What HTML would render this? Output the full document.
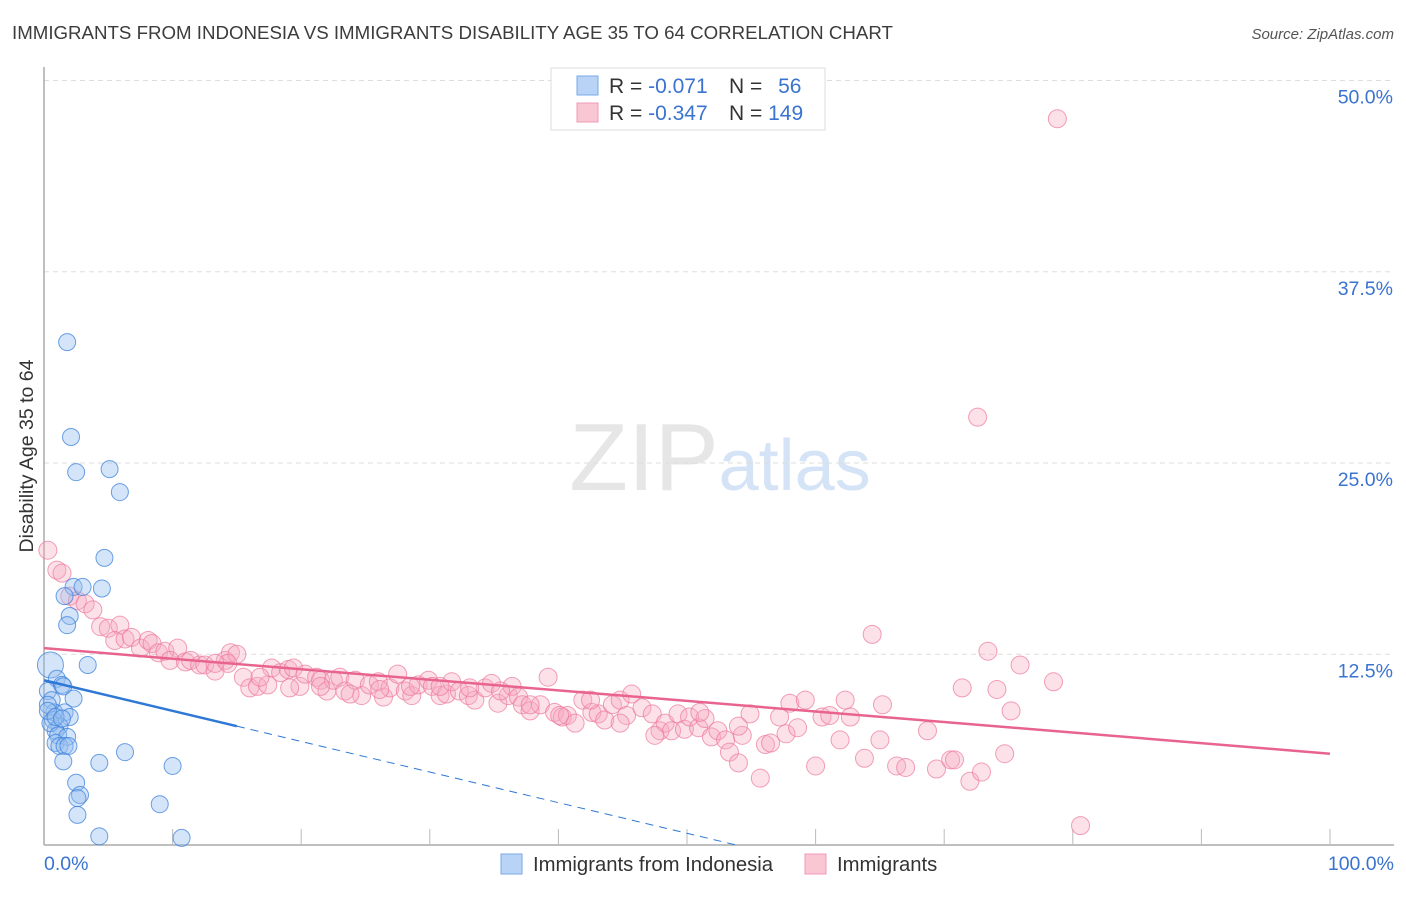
<!DOCTYPE html>
<html><head><meta charset="utf-8"><style>
body{margin:0;background:#fff;font-family:"Liberation Sans",sans-serif;}
svg text{font-family:"Liberation Sans",sans-serif;}
</style></head><body>
<svg id="chart" width="1406" height="892" xmlns="http://www.w3.org/2000/svg">
<text x="12" y="39" font-size="18.7" fill="#3c3c3c">IMMIGRANTS FROM INDONESIA VS IMMIGRANTS DISABILITY AGE 35 TO 64 CORRELATION CHART</text>
<text x="1394" y="39" font-size="15" fill="#555" text-anchor="end" font-style="italic">Source: ZipAtlas.com</text>
<text x="720" y="490" font-size="96" text-anchor="middle" fill="#e6e6e6" font-family="Liberation Serif">ZIP<tspan fill="#d4e3f5" font-family="Liberation Sans" font-size="72">atlas</tspan></text>
<text transform="translate(33,456) rotate(-90)" font-size="19.5" fill="#333" text-anchor="middle">Disability Age 35 to 64</text>
<g id="grid"></g><g id="axes"></g><g id="pts"></g><g id="lines"></g>
<g>
<rect x="551" y="68" width="274" height="62" fill="#fff" stroke="#ddd"/>
<rect x="577" y="76" width="21" height="19" fill="#b8d3f5" stroke="#7aaae8"/>
<rect x="577" y="103" width="21" height="19" fill="#f9c6d4" stroke="#f099b3"/>
<text x="609" y="93" font-size="21" fill="#333">R = <tspan fill="#3a73d0">-0.071</tspan></text>
<text x="729" y="93" font-size="21" fill="#333">N = <tspan fill="#3a73d0" dx="10">56</tspan></text>
<text x="609" y="120" font-size="21" fill="#333">R = <tspan fill="#3a73d0">-0.347</tspan></text>
<text x="729" y="120" font-size="21" fill="#333">N = <tspan fill="#3a73d0">149</tspan></text>
</g>
<g>
<rect x="501" y="854" width="21" height="20" fill="#b8d3f5" stroke="#7aaae8"/>
<text x="533" y="871" font-size="20.3" fill="#333">Immigrants from Indonesia</text>
<rect x="805" y="854" width="21" height="20" fill="#f9c6d4" stroke="#f099b3"/>
<text x="837" y="871" font-size="20.3" fill="#333">Immigrants</text>
</g>
</svg>
<script>
const yTicks=[12.5,25,37.5,50];
const yTickLabels=["12.5%","25.0%","37.5%","50.0%"];
const xTickLabels=["0.0%","100.0%"];
const blueX=[1.8,2.1,2.5,5.1,5.9,4.7,2.3,3.0,4.5,1.6,2.0,1.8,3.4,0.5,1.0,0.3,1.4,1.5,2.3,0.6,0.8,1.6,2.0,0.7,1.2,0.9,0.5,1.1,1.8,0.9,1.2,1.6,1.9,6.3,4.3,1.5,10.0,2.5,2.8,2.6,9.0,2.6,4.3,10.7,0.3,0.3,0.9,1.4];
const blueY=[32.9,26.7,24.4,24.6,23.1,18.8,16.9,16.9,16.8,16.3,15.0,14.4,11.8,11.8,10.9,10.1,10.5,10.4,9.6,9.5,8.7,8.7,8.4,8.2,7.8,7.5,8.0,7.2,7.1,6.7,6.5,6.5,6.5,6.1,5.4,5.5,5.2,4.1,3.3,3.1,2.7,2.0,0.6,0.5,9.2,8.8,8.4,8.3];
const pinkX=[0.3,1.0,1.4,2.0,2.6,3.2,3.8,4.4,5.0,5.9,5.5,6.3,6.8,7.5,8.1,8.4,8.9,9.4,10.4,9.8,11.0,11.4,12.1,12.5,13.3,14.1,14.5,15.0,15.5,16.0,16.6,17.4,17.7,18.4,19.0,19.4,19.9,20.3,21.2,21.5,22.0,22.5,23.0,23.4,24.2,24.7,25.3,26.0,26.4,26.9,27.5,28.1,28.6,29.1,29.9,30.2,30.8,31.3,31.7,32.3,33.0,33.5,34.3,34.8,35.3,36.1,36.4,36.9,37.2,37.8,38.6,39.2,39.7,40.3,40.7,41.3,41.9,42.6,43.1,43.6,44.2,44.8,45.3,45.7,46.5,47.3,47.9,48.3,48.8,49.3,49.8,50.2,50.9,51.4,51.9,52.4,53.0,53.3,54.0,54.3,54.9,55.7,56.1,56.5,57.2,57.7,58.0,58.6,59.2,60.0,60.5,61.1,61.9,62.3,62.7,63.8,64.4,65.0,65.2,66.3,67.0,68.7,69.4,70.5,70.8,71.4,72.0,72.6,72.9,73.4,74.1,74.7,75.2,75.9,78.5,78.8,80.6,54.0,51.0,47.5,44.8,42.5,40.1,37.8,35.5,33.1,30.8,28.5,26.1,23.8,21.5,19.1,16.8,14.3,13.3];
const pinkY=[19.3,18.0,17.8,16.3,16.0,15.8,15.4,14.3,14.2,14.4,13.4,13.5,13.6,12.9,13.4,13.2,12.6,12.7,12.9,12.1,12.0,12.1,11.8,11.8,11.4,12.1,12.6,12.5,11.0,10.3,10.4,10.5,11.6,11.3,11.5,11.6,10.4,11.2,11.0,10.8,10.1,10.8,11.0,10.1,10.8,9.8,10.5,10.7,9.7,10.3,11.2,10.1,9.8,10.5,10.8,10.4,9.8,9.9,10.7,10.1,9.8,9.5,10.3,10.6,9.3,9.8,10.4,9.7,9.2,8.8,9.2,11.0,8.7,8.4,8.5,8.0,9.5,8.7,8.6,8.2,9.2,9.5,8.5,9.9,9.0,8.6,7.5,8.0,7.5,8.6,7.6,8.4,7.7,8.3,7.1,7.5,6.9,6.1,5.4,7.2,8.6,4.4,6.6,6.7,8.4,7.3,9.3,7.7,9.5,5.2,8.4,8.5,6.9,9.5,8.4,5.7,13.8,6.9,9.2,5.2,5.1,7.5,5.0,5.6,5.6,10.3,4.2,28.0,4.8,12.7,10.2,6.0,8.8,11.8,10.7,47.5,1.3,7.8,8.7,7.2,8.0,9.5,8.5,9.2,10.1,10.3,10.4,10.4,10.2,9.9,10.4,10.3,11.0,11.9,11.9];
const blueTrend=[10.8,7.8];
const pinkTrend=[12.9,6.0];
const NS="http://www.w3.org/2000/svg";
const X=v=>44+v*12.86, Y=v=>845.5-v*15.3;
function mk(tag,attrs,parent){const e=document.createElementNS(NS,tag);for(const k in attrs)e.setAttribute(k,attrs[k]);document.getElementById(parent).appendChild(e);return e;}
yTicks.forEach((t,i)=>{
 const g=mk('line',{x1:44,x2:1394,y1:Y(t),y2:Y(t),stroke:'#ddd','stroke-dasharray':'5,4'},'grid');
 
 
 const l=mk('text',{x:1393,y:Y(t)+23,'font-size':19.5,fill:'#3a73d0','text-anchor':'end'},'grid');
 l.textContent=yTickLabels[i];
 
 
});
const ax=mk('line',{x1:44,x2:44,y1:67,y2:845,stroke:'#aaa','stroke-width':1.5},'axes');


const bx=mk('line',{x1:44,x2:1394,y1:845,y2:845,stroke:'#aaa','stroke-width':1.5},'axes');


for(let k=1;k<=10;k++){const t=mk('line',{x1:X(k*10),x2:X(k*10),y1:829,y2:845,stroke:'#bbb'},'axes');
 
 }
[[0,'start',44],[100,'end',1394]].forEach((d,i)=>{const t=mk('text',{x:d[2],y:870,'font-size':19.5,fill:'#3a73d0','text-anchor':d[1]},'axes');t.textContent=xTickLabels[i];
 
 });
pinkX.forEach((x,i)=>{const c=mk('circle',{cx:X(x),cy:Y(pinkY[i]),r:9,fill:'rgba(246,170,192,0.35)',stroke:'rgba(236,120,155,0.7)','stroke-width':1},'pts');
 
 });
blueX.forEach((x,i)=>{const c=mk('circle',{cx:X(x),cy:Y(blueY[i]),r:i==13?13:8.5,fill:'rgba(150,190,240,0.4)',stroke:'rgba(60,130,220,0.75)','stroke-width':1},'pts');
 
 });
const bs=(blueTrend[1]-blueTrend[0])/15, bz=-blueTrend[0]/bs;
const l1=mk('line',{x1:X(0),y1:Y(blueTrend[0]),x2:X(15),y2:Y(blueTrend[1]),stroke:'#2e78d6','stroke-width':2.5},'lines');


const l2=mk('line',{x1:X(15),y1:Y(blueTrend[1]),x2:X(bz),y2:Y(0),stroke:'#2e78d6','stroke-width':1,'stroke-dasharray':'8,6'},'lines');


const l3=mk('line',{x1:X(0),y1:Y(pinkTrend[0]),x2:X(100),y2:Y(pinkTrend[1]),stroke:'#e8648f','stroke-width':2.5},'lines');


</script>
</body></html>
